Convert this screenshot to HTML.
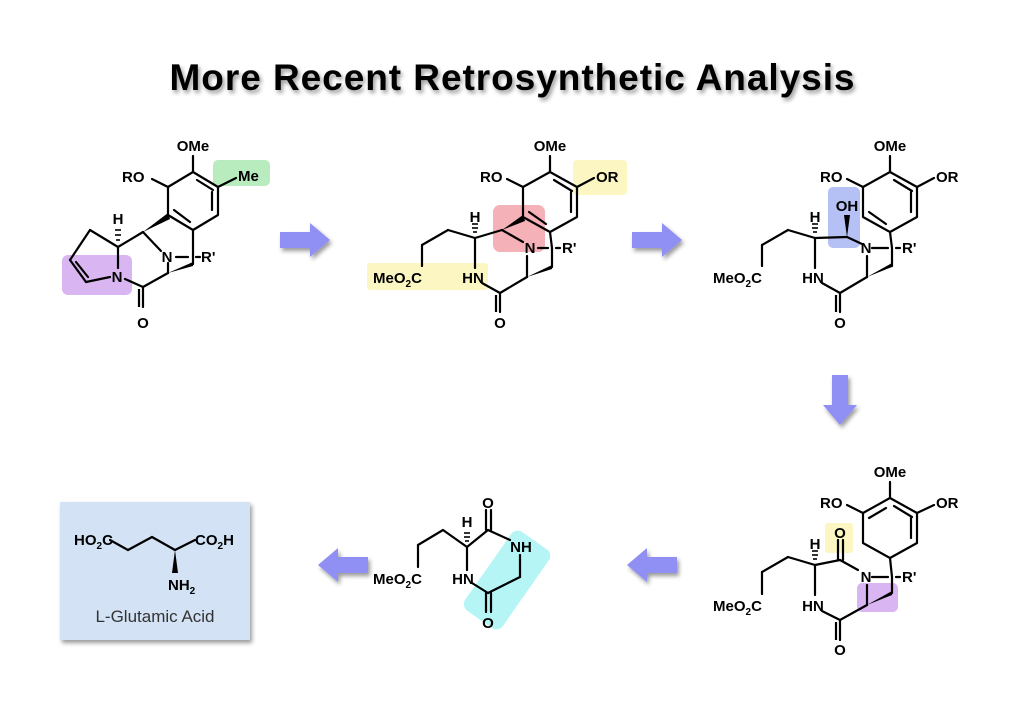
<!DOCTYPE html>
<html><head><meta charset="utf-8"><style>
html,body{margin:0;padding:0;background:#fff;}
svg{display:block}
text{font-family:"Liberation Sans",Arial,sans-serif;font-weight:bold;fill:#000}
</style></head><body>
<svg width="1024" height="724" viewBox="0 0 1024 724" xmlns="http://www.w3.org/2000/svg">
<defs>
<filter id="sh" x="-10%" y="-30%" width="120%" height="160%"><feGaussianBlur in="SourceAlpha" stdDeviation="2"/><feOffset dx="2" dy="3"/><feComponentTransfer><feFuncA type="linear" slope="0.4"/></feComponentTransfer><feMerge><feMergeNode/><feMergeNode in="SourceGraphic"/></feMerge></filter>
<g id="arr"><polygon points="0,-8 30,-8 30,-17 50,0 30,17 30,8 0,8" fill="#8f8ff4"/></g>
</defs>
<text x="512" y="90" font-size="37" text-anchor="middle" textLength="685" filter="url(#sh)">More Recent Retrosynthetic Analysis</text>

<!-- highlights -->
<rect x="213" y="160" width="57" height="26" rx="5" fill="#b8ecbf"/>
<rect x="62" y="255" width="70" height="40" rx="6" fill="#d9b6f2"/>
<rect x="573" y="160" width="54" height="35" rx="4" fill="#fbf6c2"/>
<rect x="367" y="263" width="121" height="27" rx="3" fill="#fbf6c2"/>
<rect x="493" y="205" width="52" height="47" rx="7" fill="#f4b1b8"/>
<rect x="828" y="187" width="32" height="61" rx="5" fill="#b5c0f5"/>
<rect x="825" y="523" width="28" height="30" rx="3" fill="#fbf6c2"/>
<rect x="857" y="583" width="41" height="29" rx="5" fill="#d9b6f2"/>
<rect x="-23" y="-48" width="46" height="96" rx="8" fill="#b5f5f5" transform="translate(507,580) rotate(35)"/>
<rect x="60" y="502" width="190" height="138" fill="#d3e2f4" filter="url(#sh)"/>

<g stroke="#000" stroke-width="2.2" fill="none" stroke-linecap="round" stroke-linejoin="round">
<!-- Structure 1 -->
<polygon points="193,172 218,187 218,215 193,230 168,215 168,187"/>
<line x1="197" y1="180" x2="213" y2="190"/><line x1="212" y1="192" x2="212" y2="210"/><line x1="174" y1="210" x2="190" y2="222"/>
<line x1="193" y1="172" x2="193" y2="156"/><line x1="168" y1="187" x2="152" y2="179"/><line x1="218" y1="187" x2="236" y2="178"/>
<line x1="193" y1="230" x2="193" y2="257"/><line x1="176" y1="257" x2="188" y2="257"/><line x1="196" y1="257" x2="200" y2="257"/>
<line x1="193" y1="257" x2="193" y2="264"/><line x1="143" y1="232" x2="161" y2="251"/>
<line x1="168" y1="263" x2="168" y2="273"/><line x1="168" y1="273" x2="143" y2="287"/>
<line x1="143" y1="287" x2="125" y2="279"/><line x1="143" y1="287" x2="143" y2="307"/>
<line x1="118" y1="247" x2="143" y2="232"/><line x1="118" y1="247" x2="118" y2="268"/>
<line x1="118" y1="247" x2="90" y2="230"/><line x1="90" y1="230" x2="70" y2="260"/><line x1="70" y1="260" x2="86" y2="282"/><line x1="76" y1="262" x2="88" y2="277"/><line x1="86" y1="282" x2="110" y2="277"/>
<!-- Structure 2 -->
<polygon points="550,172 577,187 577,217 550,232 523,217 523,187"/>
<line x1="554" y1="180" x2="572" y2="191"/><line x1="571" y1="192" x2="571" y2="212"/><line x1="529" y1="212" x2="546" y2="224"/>
<line x1="550" y1="172" x2="550" y2="156"/><line x1="523" y1="187" x2="507" y2="179"/><line x1="577" y1="187" x2="594" y2="178"/>
<line x1="550" y1="232" x2="552" y2="248"/><line x1="538" y1="248" x2="548" y2="248"/><line x1="556" y1="248" x2="560" y2="248"/>
<line x1="552" y1="248" x2="552" y2="267"/><line x1="502" y1="230" x2="523" y2="242"/>
<line x1="527" y1="256" x2="527" y2="277"/><line x1="527" y1="277" x2="500" y2="293"/><line x1="500" y1="293" x2="482" y2="283"/>
<line x1="500" y1="293" x2="500" y2="312"/><line x1="475" y1="238" x2="502" y2="230"/><line x1="475" y1="238" x2="475" y2="268"/>
<line x1="475" y1="238" x2="448" y2="230"/><line x1="448" y1="230" x2="422" y2="245"/><line x1="422" y1="245" x2="422" y2="266"/>
<!-- Structure 3 -->
<polygon points="890,172 917,187 917,217 890,232 863,217 863,187"/>
<line x1="894" y1="180" x2="912" y2="191"/><line x1="911" y1="192" x2="911" y2="212"/><line x1="869" y1="212" x2="886" y2="224"/>
<line x1="890" y1="172" x2="890" y2="156"/><line x1="863" y1="187" x2="847" y2="179"/><line x1="917" y1="187" x2="934" y2="178"/>
<line x1="890" y1="232" x2="892" y2="248"/><line x1="872" y1="248" x2="888" y2="248"/><line x1="896" y1="248" x2="900" y2="248"/>
<line x1="892" y1="248" x2="892" y2="266"/><line x1="847" y1="237" x2="862" y2="244"/>
<line x1="867" y1="256" x2="867" y2="277"/><line x1="867" y1="277" x2="840" y2="293"/><line x1="840" y1="293" x2="822" y2="283"/>
<line x1="840" y1="293" x2="840" y2="312"/><line x1="815" y1="238" x2="847" y2="237"/><line x1="815" y1="238" x2="815" y2="268"/>
<line x1="815" y1="238" x2="788" y2="230"/><line x1="788" y1="230" x2="762" y2="245"/><line x1="762" y1="245" x2="762" y2="266"/>
<!-- Structure 4 -->
<polygon points="890,498 917,513 917,543 890,558 863,543 863,513"/>
<line x1="894" y1="506" x2="912" y2="517"/><line x1="911" y1="518" x2="911" y2="538"/><line x1="869" y1="518" x2="886" y2="508"/>
<line x1="890" y1="498" x2="890" y2="482"/><line x1="863" y1="513" x2="847" y2="505"/><line x1="917" y1="513" x2="934" y2="505"/>
<line x1="890" y1="558" x2="892" y2="577"/><line x1="872" y1="577" x2="888" y2="577"/><line x1="896" y1="577" x2="900" y2="577"/>
<line x1="892" y1="577" x2="892" y2="593"/>
<line x1="867" y1="585" x2="867" y2="605"/><line x1="867" y1="605" x2="840" y2="620"/><line x1="840" y1="620" x2="822" y2="611"/>
<line x1="840" y1="620" x2="840" y2="640"/><line x1="815" y1="565" x2="840" y2="560"/><line x1="840" y1="560" x2="858" y2="570"/>
<line x1="838" y1="560" x2="838" y2="540"/><line x1="843" y1="560" x2="843" y2="540"/>
<line x1="815" y1="565" x2="815" y2="595"/>
<line x1="815" y1="565" x2="788" y2="557"/><line x1="788" y1="557" x2="762" y2="572"/><line x1="762" y1="572" x2="762" y2="594"/>
<!-- Structure 5 -->
<line x1="467" y1="547" x2="488" y2="530"/><line x1="486" y1="530" x2="486" y2="510"/><line x1="491" y1="530" x2="491" y2="510"/>
<line x1="488" y1="530" x2="510" y2="540"/><line x1="520" y1="555" x2="520" y2="577"/><line x1="520" y1="577" x2="488" y2="593"/>
<line x1="486" y1="593" x2="486" y2="612"/><line x1="491" y1="593" x2="491" y2="612"/><line x1="488" y1="593" x2="472" y2="583"/>
<line x1="467" y1="547" x2="467" y2="570"/><line x1="467" y1="547" x2="443" y2="530"/><line x1="443" y1="530" x2="418" y2="545"/><line x1="418" y1="545" x2="418" y2="567"/>
<!-- Glutamic -->
<line x1="110" y1="540" x2="128" y2="550"/><line x1="128" y1="550" x2="152" y2="537"/><line x1="152" y1="537" x2="175" y2="550"/><line x1="175" y1="550" x2="195" y2="540"/>
</g>
<g stroke="#000" stroke-width="2.2">
<line x1="139" y1="289" x2="139" y2="307"/><line x1="496" y1="295" x2="496" y2="312"/><line x1="836" y1="295" x2="836" y2="312"/><line x1="836" y1="622" x2="836" y2="640"/>
</g>
<g fill="#000">
<polygon points="143,232 168,213 170,219"/><polygon points="168,273 193,262 193,266"/>
<polygon points="502,230 523,215 525,221"/><polygon points="527,277 552,265 552,269"/>
<polygon points="867,277 892,263 892,267"/><polygon points="847,237 844,215 850,215"/>
<polygon points="867,605 892,591 892,595"/>
<polygon points="175,550 172,573 178,573"/>
</g>
<g stroke="#000" stroke-width="1.6">
<line x1="116" y1="240" x2="120" y2="240"/><line x1="115" y1="235" x2="121" y2="235"/><line x1="115" y1="230" x2="121" y2="230"/>
<line x1="473" y1="232" x2="477" y2="232"/><line x1="472" y1="228" x2="478" y2="228"/><line x1="472" y1="224" x2="478" y2="224"/>
<line x1="813" y1="232" x2="817" y2="232"/><line x1="812" y1="228" x2="818" y2="228"/><line x1="812" y1="224" x2="818" y2="224"/>
<line x1="813" y1="559" x2="817" y2="559"/><line x1="812" y1="555" x2="818" y2="555"/><line x1="812" y1="551" x2="818" y2="551"/>
<line x1="465" y1="541" x2="469" y2="541"/><line x1="464" y1="537" x2="470" y2="537"/><line x1="464" y1="533" x2="470" y2="533"/>
</g>
<g font-size="15">
<text x="193" y="151" text-anchor="middle">OMe</text><text x="122" y="182">RO</text><text x="238" y="181">Me</text>
<text x="118" y="224" text-anchor="middle">H</text><text x="167" y="262" text-anchor="middle">N</text><text x="201" y="262">R'</text>
<text x="117" y="282" text-anchor="middle">N</text><text x="143" y="328" text-anchor="middle">O</text>

<text x="550" y="151" text-anchor="middle">OMe</text><text x="480" y="182">RO</text><text x="596" y="182">OR</text>
<text x="475" y="222" text-anchor="middle">H</text><text x="530" y="253" text-anchor="middle">N</text><text x="562" y="253">R'</text>
<text x="473" y="283" text-anchor="middle">HN</text><text x="500" y="328" text-anchor="middle">O</text>
<text x="373" y="283">MeO<tspan font-size="10" dy="4">2</tspan><tspan dy="-4">C</tspan></text>

<text x="890" y="151" text-anchor="middle">OMe</text><text x="820" y="182">RO</text><text x="936" y="182">OR</text>
<text x="815" y="222" text-anchor="middle">H</text><text x="847" y="211" text-anchor="middle">OH</text><text x="866" y="253" text-anchor="middle">N</text><text x="902" y="253">R'</text>
<text x="813" y="283" text-anchor="middle">HN</text><text x="840" y="328" text-anchor="middle">O</text>
<text x="713" y="283">MeO<tspan font-size="10" dy="4">2</tspan><tspan dy="-4">C</tspan></text>

<text x="890" y="477" text-anchor="middle">OMe</text><text x="820" y="508">RO</text><text x="936" y="508">OR</text>
<text x="815" y="549" text-anchor="middle">H</text><text x="840" y="538" text-anchor="middle">O</text><text x="866" y="582" text-anchor="middle">N</text><text x="902" y="582">R'</text>
<text x="813" y="611" text-anchor="middle">HN</text><text x="840" y="655" text-anchor="middle">O</text>
<text x="713" y="611">MeO<tspan font-size="10" dy="4">2</tspan><tspan dy="-4">C</tspan></text>

<text x="488" y="508" text-anchor="middle">O</text><text x="467" y="527" text-anchor="middle">H</text><text x="521" y="552" text-anchor="middle">NH</text>
<text x="463" y="584" text-anchor="middle">HN</text><text x="488" y="628" text-anchor="middle">O</text>
<text x="373" y="584">MeO<tspan font-size="10" dy="4">2</tspan><tspan dy="-4">C</tspan></text>

<text x="74" y="545">HO<tspan font-size="10" dy="4">2</tspan><tspan dy="-4">C</tspan></text>
<text x="195" y="545">CO<tspan font-size="10" dy="4">2</tspan><tspan dy="-4">H</tspan></text>
<text x="168" y="590">NH<tspan font-size="10" dy="4">2</tspan></text>
</g>
<text x="155" y="622" font-size="17" text-anchor="middle" style="font-weight:normal;fill:#333">L-Glutamic Acid</text>

<g filter="url(#sh)">
<use href="#arr" transform="translate(280,240)"/>
<use href="#arr" transform="translate(632,240)"/>
<use href="#arr" transform="translate(840,375) rotate(90)"/>
<use href="#arr" transform="translate(368,565) rotate(180)"/>
<use href="#arr" transform="translate(677,565) rotate(180)"/>
</g>
</svg>
</body></html>
